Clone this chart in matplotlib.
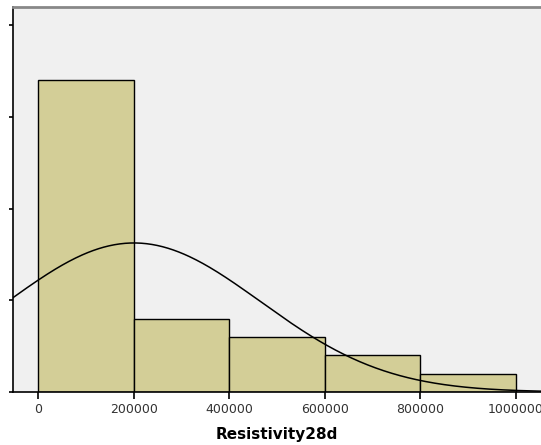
import numpy as np
import matplotlib
matplotlib.use("Agg")
import matplotlib.pyplot as plt

# histogram bins (Resistivity28d) and counts
bin_edges = [0, 200000, 400000, 600000, 800000, 1000000]
counts = [17, 4, 3, 2, 1]
# fitted normal curve parameters
mean_r = 200000
sd_r = 265000
n_total = sum(counts)

fig = plt.figure(figsize=(5.41, 4.45), dpi=100)
ax = fig.add_axes([13 / 541, 53 / 445, 1 - 13 / 541, 385 / 445])
ax.set_facecolor("#F0F0F0")

widths = np.diff(bin_edges)
ax.bar(bin_edges[:-1], counts, width=widths, align="edge",
       color="#D3CE97", edgecolor="black", linewidth=1.0, zorder=2)

# normal curve scaled to counts
xs = np.linspace(-60000, 1060000, 400)
bw = widths[0]
ys = n_total * bw / (sd_r * np.sqrt(2 * np.pi)) * np.exp(-0.5 * ((xs - mean_r) / sd_r) ** 2)
ax.plot(xs, ys, color="black", linewidth=1.1, zorder=3)

ax.set_xlim(-53400, 1052400)
ax.set_ylim(0, 21)
ax.set_xticks(bin_edges)
ax.set_xticklabels([str(v) for v in bin_edges], fontsize=9, color="#333333")
ax.set_yticks([0, 5, 10, 15, 20])
ax.set_yticklabels([])
ax.tick_params(axis="x", direction="out", length=5, width=1.2, pad=3)
ax.tick_params(axis="y", direction="out", length=3, width=1.2)

ax.spines["left"].set_color("black")
ax.spines["left"].set_linewidth(1.2)
ax.spines["bottom"].set_color("black")
ax.spines["bottom"].set_linewidth(1.2)
ax.spines["top"].set_color("#888888")
ax.spines["top"].set_linewidth(2)
ax.spines["right"].set_visible(False)

ax.set_xlabel("Resistivity28d", fontsize=11, fontweight="bold", labelpad=8)

fig.savefig("out.png", dpi=100)
